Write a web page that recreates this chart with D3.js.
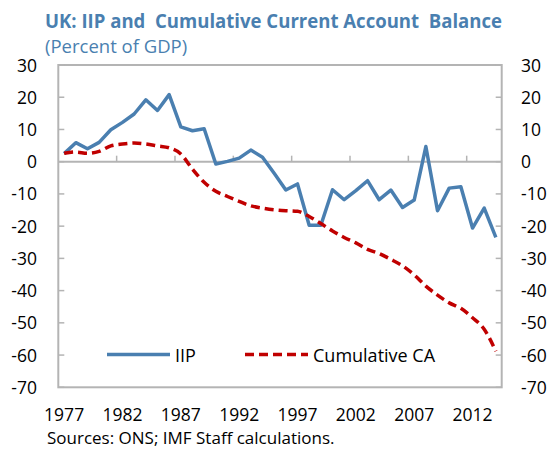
<!DOCTYPE html>
<html>
<head>
<meta charset="utf-8">
<script src="https://cdn.jsdelivr.net/npm/d3@7"></script>
<style>
  body { margin: 0; background: #fff; }
  text { font-family: "Open Sans", sans-serif; }
</style>
</head>
<body>
<svg id="chart"></svg>
<script>
// data
const years = d3.range(1977, 2015);
const iip = [2.5, 5.9, 4.0, 6.0, 9.9, 12.2, 14.8, 19.2, 15.9, 20.8,
  10.8, 9.6, 10.2, -0.7, 0.1, 1.1, 3.6, 1.4, -3.6, -8.8,
  -6.9, -19.7, -19.7, -8.7, -11.8, -9.0, -5.9, -11.8, -8.8, -14.2,
  -11.9, 4.7, -15.2, -8.2, -7.8, -20.6, -14.4, -23.5];
const cumCA = [2.6, 3.0, 2.6, 3.2, 4.9, 5.5, 5.8, 5.5, 4.9, 4.3,
  2.4, -2.3, -6.4, -9.2, -10.8, -12.3, -13.7, -14.4, -14.9, -15.2,
  -15.4, -17.0, -19.2, -21.5, -23.5, -25.2, -27.2, -28.5, -30.3, -32.3,
  -35.1, -38.6, -41.4, -43.8, -45.5, -48.4, -52.0, -58.8];
const yTicks = [30, 20, 10, 0, -10, -20, -30, -40, -50, -60, -70];
const xLabels = [1977, 1982, 1987, 1992, 1997, 2002, 2007, 2012];

const W = 552, H = 449;
const margin = {left: 58.3, right: 501.7, top: 65, bottom: 387.3};
const blue = "#4a7fb0", red = "#c00000", grey = "#b4b4b4";

const svg = d3.select("#chart").attr("width", W).attr("height", H);

const x = d3.scalePoint().domain(years).range([margin.left, margin.right]).padding(0.5);
const y = d3.scaleLinear().domain([-70, 30]).range([margin.bottom, margin.top]);
const step = x.step();

// title
svg.append("text").attr("x", 45).attr("y", 28)
    .attr("font-size", 19).attr("font-weight", "bold").attr("fill", blue)
    .attr("textLength", 457).attr("lengthAdjust", "spacingAndGlyphs")
    .style("white-space", "pre")
    .text("UK: IIP and  Cumulative Current Account  Balance");
svg.append("text").attr("x", 45).attr("y", 53)
    .attr("font-size", 18.5).attr("fill", blue)
    .text("(Percent of GDP)");

// plot frame
svg.append("rect")
    .attr("x", margin.left).attr("y", margin.top)
    .attr("width", margin.right - margin.left).attr("height", margin.bottom - margin.top)
    .attr("fill", "none").attr("stroke", grey).attr("stroke-width", 2);

// y ticks, inward on both sides
const g = svg.append("g");
g.selectAll(".tl").data(yTicks).enter().append("line")
    .attr("x1", margin.left).attr("x2", margin.left + 6)
    .attr("y1", d => y(d)).attr("y2", d => y(d))
    .attr("stroke", grey).attr("stroke-width", 1.5);
g.selectAll(".tr").data(yTicks).enter().append("line")
    .attr("x1", margin.right - 6).attr("x2", margin.right)
    .attr("y1", d => y(d)).attr("y2", d => y(d))
    .attr("stroke", grey).attr("stroke-width", 1.5);

g.selectAll(".ll").data(yTicks).enter().append("text")
    .attr("x", 37).attr("y", d => y(d) + 6.5)
    .attr("text-anchor", "end").attr("font-size", 17.5).attr("fill", "#000")
    .text(d => d);
g.selectAll(".lr").data(yTicks).enter().append("text")
    .attr("x", 521).attr("y", d => y(d) + 6.5)
    .attr("font-size", 17.5).attr("fill", "#000")
    .text(d => d);

// zero axis with category ticks between years
svg.append("line")
    .attr("x1", margin.left).attr("x2", margin.right)
    .attr("y1", y(0)).attr("y2", y(0))
    .attr("stroke", grey).attr("stroke-width", 2);
svg.selectAll(".xt").data(xLabels.slice(1)).enter().append("line")
    .attr("x1", d => x(d) - step / 2).attr("x2", d => x(d) - step / 2)
    .attr("y1", y(0)).attr("y2", y(0) - 6)
    .attr("stroke", grey).attr("stroke-width", 1.5);

svg.selectAll(".xl").data(xLabels).enter().append("text")
    .attr("x", d => x(d)).attr("y", 420.5)
    .attr("text-anchor", "middle").attr("font-size", 17.5).attr("fill", "#000")
    .text(d => d);

// series
const lineIIP = d3.line().x((d, i) => x(years[i])).y(d => y(d));
const lineCA = d3.line().x((d, i) => x(years[i])).y(d => y(d)).curve(d3.curveMonotoneX);

svg.append("path").datum(iip).attr("d", lineIIP)
    .attr("fill", "none").attr("stroke", blue).attr("stroke-width", 3.5)
    .attr("stroke-linejoin", "round");
svg.append("path").datum(cumCA).attr("d", lineCA)
    .attr("fill", "none").attr("stroke", red).attr("stroke-width", 3.5)
    .attr("stroke-dasharray", "9,5");

// legend
const ly = y(-60) - 0.5;
svg.append("line").attr("x1", 107).attr("x2", 170).attr("y1", ly).attr("y2", ly)
    .attr("stroke", blue).attr("stroke-width", 3.5);
svg.append("text").attr("x", 175).attr("y", ly + 7)
    .attr("font-size", 18).text("IIP");
svg.append("line").attr("x1", 245).attr("x2", 308).attr("y1", ly).attr("y2", ly)
    .attr("stroke", red).attr("stroke-width", 3.5).attr("stroke-dasharray", "9,5");
svg.append("text").attr("x", 313).attr("y", ly + 7)
    .attr("font-size", 18).text("Cumulative CA");

// source
svg.append("text").attr("x", 47).attr("y", 444)
    .attr("font-size", 17).text("Sources: ONS; IMF Staff calculations.");
</script>
</body>
</html>
